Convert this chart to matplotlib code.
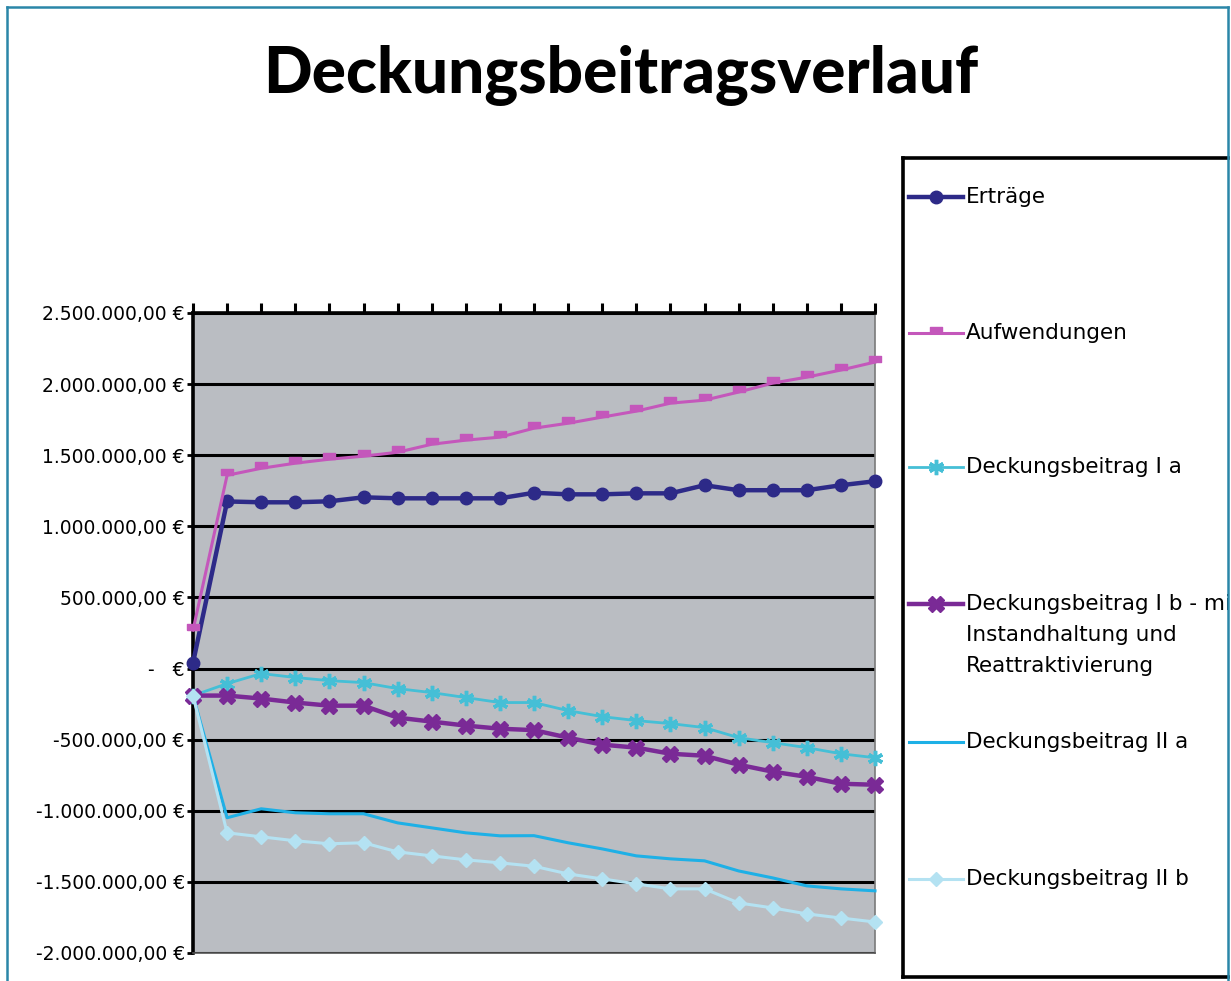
import matplotlib
matplotlib.use("Agg")
import matplotlib.pyplot as plt
from matplotlib.lines import Line2D
from matplotlib.ticker import FuncFormatter, MultipleLocator

W, H = 1231, 981
DPI = 100
BG = "#babdc2"
FRAME = "#2a86a8"

# 21 Perioden
PERIODEN = list(range(21))

ERTRAEGE = [40000, 1175000, 1169000, 1169000, 1176000, 1204000, 1197000, 1197000,
            1197000, 1197000, 1236000, 1225000, 1225000, 1232000, 1232000, 1289000,
            1254000, 1254000, 1254000, 1289000, 1317000]
AUFWENDUNGEN = [270000, 1359000, 1408000, 1444000, 1472000, 1493000, 1521000, 1577000,
                1606000, 1627000, 1690000, 1725000, 1768000, 1810000, 1866000, 1887000,
                1944000, 2007000, 2049000, 2099000, 2155000]
DB_IA = [-190000, -106000, -35000, -63000, -85000, -99000, -141000, -169000, -204000,
         -239000, -239000, -296000, -338000, -366000, -387000, -415000, -486000,
         -521000, -556000, -599000, -627000]
DB_IB = [-190000, -190000, -211000, -239000, -261000, -261000, -345000, -373000,
         -401000, -423000, -433000, -486000, -535000, -556000, -599000, -613000,
         -676000, -725000, -761000, -810000, -817000]
DB_IIA = [-190000, -1049000, -986000, -1014000, -1021000, -1021000, -1085000, -1120000,
          -1155000, -1176000, -1175000, -1225000, -1268000, -1317000, -1338000,
          -1352000, -1423000, -1472000, -1528000, -1549000, -1563000]
DB_IIB = [-190000, -1155000, -1183000, -1211000, -1232000, -1225000, -1289000, -1317000,
          -1345000, -1366000, -1390000, -1444000, -1479000, -1514000, -1549000,
          -1549000, -1648000, -1683000, -1725000, -1754000, -1782000]

LABELS = ["Erträge", "Aufwendungen", "Deckungsbeitrag I a",
          "Deckungsbeitrag I b - mit\nInstandhaltung und\nReattraktivierung",
          "Deckungsbeitrag II a", "Deckungsbeitrag II b"]

# short dash sitting on top of the line (Excel style)
DASH = [(-1, 0), (1, 0), (1, 0.9), (-1, 0.9), (-1, 0)]

# color, marker, markersize, linewidth, edge width
STYLES = [
    ("#2d2a88", "o", 9, 3.2, 1),
    ("#c457bb", DASH, 9, 2.2, 1),
    ("#45bfd6", (6, 2, 0), 11, 2.0, 2.5),
    ("#7a2a96", "X", 11, 3.2, 1),
    ("#1eb0e6", None, 0, 2.2, 1),
    ("#b4e2f2", "D", 7, 2.2, 1),
]


def eur(v, pos=None):
    if abs(v) < 1:
        return "-   €"
    s = f"{abs(v):,.2f}".replace(",", "#").replace(".", ",").replace("#", ".")
    return ("-" if v < 0 else "") + s + " €"


def px(x0, y0, x1, y1):
    # pixel box -> figure fraction [left, bottom, width, height]
    return [x0 / W, 1 - y1 / H, (x1 - x0) / W, (y1 - y0) / H]


fig = plt.figure(figsize=(W / DPI, H / DPI), dpi=DPI)
fig.patch.set_facecolor("white")

ax = fig.add_axes(px(193, 313, 875, 953))
ax.set_facecolor(BG)

series = [ERTRAEGE, AUFWENDUNGEN, DB_IA, DB_IB, DB_IIA, DB_IIB]
for vals, (col, mk, ms, lw, mew) in zip(series, STYLES):
    ax.plot(PERIODEN, vals, color=col, lw=lw, marker=mk, ms=ms,
            mec=col, mfc=col, mew=mew, clip_on=False, zorder=3)

ax.set_xlim(0, 20)
ax.set_ylim(-2000000, 2500000)
ax.yaxis.set_major_locator(MultipleLocator(500000))
ax.yaxis.set_major_formatter(FuncFormatter(eur))
ax.set_xticks(PERIODEN)
ax.xaxis.tick_top()
ax.tick_params(axis="x", direction="out", length=7, width=2.2, colors="black",
               labeltop=False, labelbottom=False)
ax.tick_params(axis="y", direction="out", length=4, width=2, colors="black",
               labelsize=13.5, pad=2)
ax.grid(axis="y", color="black", lw=2.2, zorder=1)
ax.set_axisbelow(True)

ax.spines["left"].set_linewidth(2.6)
ax.spines["top"].set_linewidth(2.6)
ax.spines["right"].set_color("#7a7a7a")
ax.spines["right"].set_linewidth(1.2)
ax.spines["bottom"].set_color("#555555")
ax.spines["bottom"].set_linewidth(1.2)

fig.text(621 / W, 1 - 75 / H, "Deckungsbeitragsverlauf", ha="center", va="center",
         fontsize=46, fontweight="black", family=["Lato", "DejaVu Sans"])

# legend box, drawn in pixel coordinates
lg = fig.add_axes(px(903, 158, 1228, 977))
lg.set_xlim(903, 1228)
lg.set_ylim(977, 158)
lg.set_xticks([])
lg.set_yticks([])
for s in ("left", "top", "bottom"):
    lg.spines[s].set_linewidth(2.6)
lg.spines["right"].set_visible(False)

entry_y = [197, 333, 467, 604, 742, 879]
for yy, lab, (col, mk, ms, lw, mew) in zip(entry_y, LABELS, STYLES):
    lg.plot([909, 936, 963], [yy, yy, yy], color=col, lw=lw, marker=mk, ms=ms,
            mec=col, mfc=col, markevery=[1], mew=mew)
    for k, line in enumerate(lab.split("\n")):
        lg.text(966, yy + 31 * k, line, va="center", ha="left", fontsize=15.5,
                clip_on=True)

# outer frame
for xs, ys in (([7, 7], [7, H]), ([7, 1228], [7, 7]), ([1228, 1228], [7, H])):
    fig.add_artist(Line2D([x / W for x in xs], [1 - y / H for y in ys],
                          color=FRAME, lw=1.8, transform=fig.transFigure))

fig.savefig("out.png", dpi=DPI)
